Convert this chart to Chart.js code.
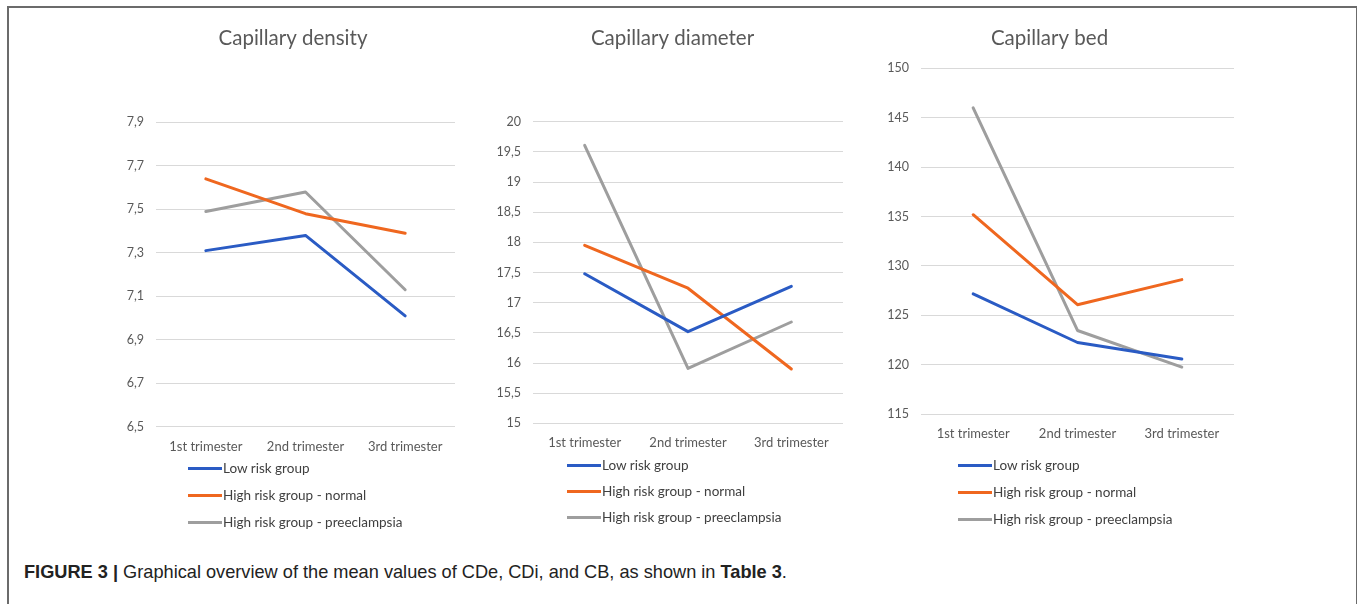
<!DOCTYPE html>
<html>
<head>
<meta charset="utf-8">
<script src="https://cdn.jsdelivr.net/npm/chart.js@4.4.1/dist/chart.umd.min.js"></script>
<style>
  body { margin: 0; background: #fff; width: 1357px; height: 604px; overflow: hidden; position: relative; font-family: Lato, "Open Sans", sans-serif; }
  .frame { position: absolute; left: 7px; top: 6px; width: 1347px; height: 640px; border: 2px solid #6b6b6b; border-bottom: none; }
  canvas { position: absolute; top: 0; }
  .lrow { position: absolute; white-space: nowrap; font-size: 13.5px; line-height: 16px; color: #404040; }
  .lrow .line { display: inline-block; width: 34px; height: 3px; vertical-align: middle; margin-right: 1px; position: relative; top: -1px; }
  .caption { position: absolute; left: 24px; top: 562px; font-family: "Liberation Sans", Arial, sans-serif; font-size: 18.2px; color: #222; white-space: nowrap; }
</style>
</head>
<body>
<div class="frame"></div>
<canvas id="density" width="354" height="467" style="left:116px"></canvas>
<canvas id="diameter" width="365" height="464" style="left:490px"></canvas>
<canvas id="bed" width="401" height="454" style="left:849px"></canvas>
<div id="legends"></div>
<div class="caption"><b>FIGURE 3 |</b> Graphical overview of the mean values of CDe, CDi, and CB, as shown in <b>Table 3</b>.</div>

<script>
// data
const trimesters = ["1st trimester", "2nd trimester", "3rd trimester"];
const groups = ["Low risk group", "High risk group - normal", "High risk group - preeclampsia"];
const colors = ["#2a5bc4", "#ef671f", "#9e9e9e"];

const densityLow = [7.31, 7.38, 7.01];
const densityNormal = [7.64, 7.48, 7.39];
const densityPre = [7.49, 7.58, 7.13];

const diameterLow = [17.48, 16.52, 17.27];
const diameterNormal = [17.95, 17.24, 15.9];
const diameterPre = [19.61, 15.91, 16.68];

const bedLow = [127.16, 122.24, 120.56];
const bedNormal = [135.18, 126.07, 128.61];
const bedPre = [146.0, 123.46, 119.75];

function commaTick(v) {
  v = Math.round(v * 10) / 10;
  return Number.isInteger(v) ? String(v) : v.toFixed(1).replace(".", ",");
}

function makePanel(id, title, series, yMin, yMax, step, yWidth, xHeight, padRight, titleGap, legend) {
  var ctx = document.getElementById(id).getContext("2d");
  var chart = new Chart(ctx, {
    type: "line",
    data: {
      labels: trimesters,
      datasets: series.map(function (vals, i) {
        return {
          label: groups[i],
          data: vals,
          borderColor: colors[i],
          backgroundColor: colors[i],
          borderWidth: 3,
          borderCapStyle: "round",
          borderJoinStyle: "round",
          pointRadius: 0,
          tension: 0,
        };
      }),
    },
    options: {
      responsive: false,
      animation: false,
      devicePixelRatio: 1,
      layout: { padding: 0 },
      plugins: {
        legend: { display: false },
        tooltip: { enabled: false },
        title: {
          display: true,
          text: title,
          color: "#595959",
          font: { family: "Lato", size: 20.5, weight: "normal", lineHeight: 1.2 },
          padding: { top: 25.7, bottom: titleGap - 1.8 },
        },
      },
      scales: {
        x: {
          offset: true,
          grid: { display: false },
          border: { display: false },
          ticks: { color: "#595959", font: { family: "Lato", size: 13 }, padding: 4, maxRotation: 0 },
          afterFit: function (s) { s.height = xHeight; },
        },
        y: {
          min: yMin,
          max: yMax,
          grid: { color: "#d9d9d9", lineWidth: 1, drawTicks: false },
          border: { display: false },
          ticks: { stepSize: step, color: "#595959", font: { family: "Lato", size: 12.5 }, padding: 12, callback: commaTick },
          afterFit: function (s) { s.width = yWidth; },
        },
        // empty right axis only reserves the gap to the right of the plot
        yRight: {
          position: "right",
          min: yMin,
          max: yMax,
          grid: { display: false },
          border: { display: false },
          ticks: { display: false },
          afterFit: function (s) { s.width = padRight; },
        },
      },
    },
  });

  // legend stacked one item per row, built from the datasets
  var box = document.getElementById("legends");
  chart.data.datasets.forEach(function (ds, i) {
    var row = document.createElement("div");
    row.className = "lrow";
    row.style.left = legend.x + "px";
    row.style.top = (legend.rows[i] - 8) + "px";
    row.innerHTML = '<span class="line" style="background:' + ds.borderColor + '"></span>' + ds.label;
    box.appendChild(row);
  });
  return chart;
}

makePanel("density", "Capillary density", [densityLow, densityNormal, densityPre],
  6.5, 7.9, 0.2, 40, 40.3, 15, 73.9, { x: 188, rows: [468, 495, 522] });
makePanel("diameter", "Capillary diameter", [diameterLow, diameterNormal, diameterPre],
  15, 20, 0.5, 43, 40.7, 12, 73.3, { x: 567, rows: [465, 491, 517] });
makePanel("bed", "Capillary bed", [bedLow, bedNormal, bedPre],
  115, 150, 5, 72, 40, 16, 19.9, { x: 958, rows: [465, 492, 519] });
</script>
</body>
</html>
